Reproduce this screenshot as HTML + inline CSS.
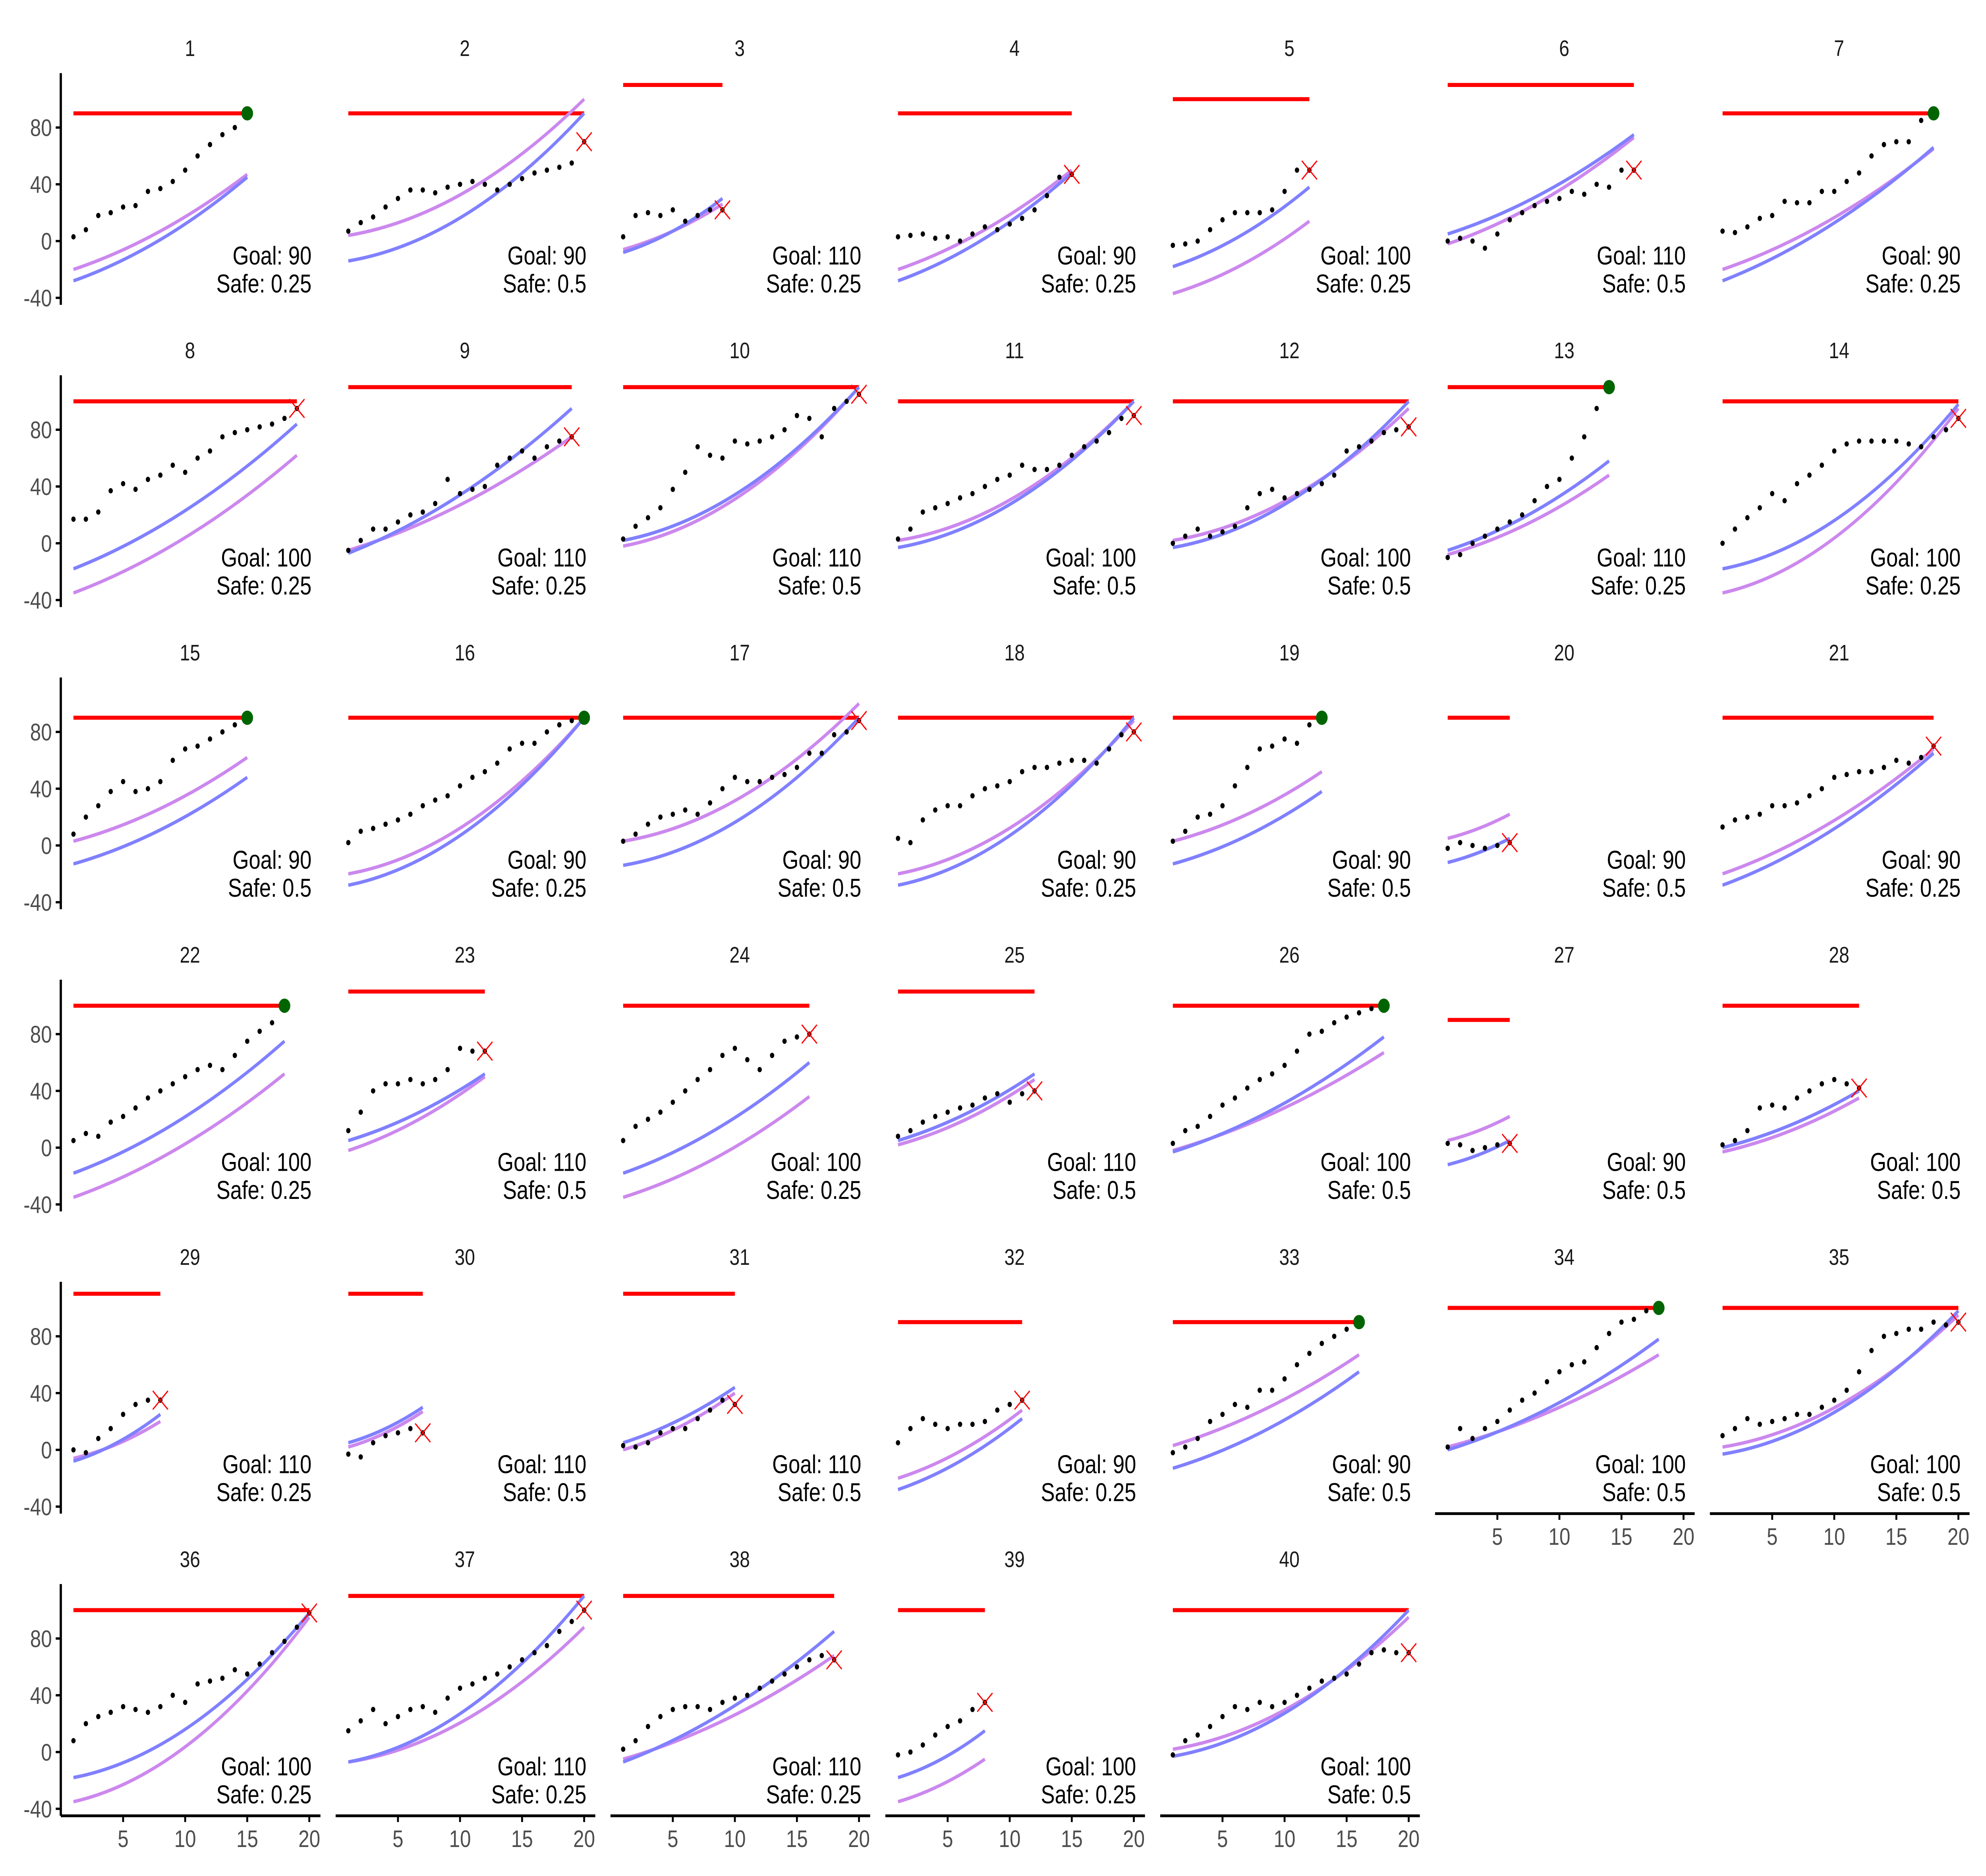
<!DOCTYPE html>
<html><head><meta charset="utf-8"><style>
html,body{margin:0;padding:0;background:#fff;width:100%;height:100%;overflow:hidden;}
svg{display:block;font-family:"Liberation Sans",Arial,sans-serif;width:100vw;height:100vh;}
</style></head><body>
<svg id="root" xmlns="http://www.w3.org/2000/svg" viewBox="0 0 1568 1206.2" preserveAspectRatio="none">
<rect x="0" y="0" width="1568" height="1206.2" fill="#fff"/>
<g id="chart"></g>
</svg>
<script>
const goals=[90,90,110,90,100,110,90,100,110,110,100,100,110,100,90,90,90,90,90,90,90,100,110,100,110,100,90,100,110,110,110,90,90,100,100,100,110,110,100,100];
const safes=["0.25","0.5","0.25","0.25","0.25","0.5","0.25","0.25","0.25","0.5","0.5","0.5","0.25","0.25","0.5","0.25","0.5","0.25","0.5","0.5","0.25","0.25","0.5","0.25","0.5","0.5","0.5","0.5","0.25","0.5","0.5","0.25","0.5","0.5","0.5","0.25","0.25","0.25","0.25","0.5"];
const reached=[1,0,0,0,0,0,1,0,0,0,0,0,1,0,1,1,0,0,1,0,0,1,0,0,0,1,0,0,0,0,0,0,1,1,0,0,0,0,0,0];
const dotSeries=[
[3,8,18,20,24,25,35,37,42,50,60,68,75,80,90],
[7,13,17,24,30,36,36,34,38,40,42,40,36,40,44,48,50,52,55,70],
[3,18,20,18,22,14,18,22,22],
[3,4,5,2,3,0,5,10,8,12,16,22,32,45,47],
[-3,-2,0,8,15,20,20,20,22,35,50,50],
[0,2,0,-5,5,15,20,25,28,30,35,33,40,38,50,50],
[7,6,10,16,18,28,27,27,35,35,42,48,60,68,70,70,85,90],
[17,17,22,37,42,38,45,48,55,50,60,65,75,78,80,82,84,88,95],
[-5,2,10,10,15,20,22,28,45,35,38,40,55,60,65,60,68,72,75],
[3,12,18,25,38,50,68,62,60,72,70,72,75,80,90,88,75,95,100,105],
[3,10,22,25,28,32,35,40,45,48,55,52,52,55,62,68,72,78,88,90],
[0,5,10,5,8,12,25,35,38,32,35,38,42,48,65,68,72,78,80,82],
[-10,-8,0,5,10,15,20,30,40,45,60,75,95,110],
[0,10,18,25,35,30,42,48,55,65,70,72,72,72,72,70,68,75,80,88],
[8,20,28,38,45,38,40,45,60,68,70,75,80,85,90],
[2,10,12,15,18,22,28,32,35,42,48,52,58,68,72,72,80,85,88,90],
[3,8,15,20,22,25,22,30,40,48,45,45,48,50,55,65,65,78,80,88],
[5,2,18,25,28,28,35,40,42,45,52,55,55,58,60,60,58,68,78,80],
[3,10,20,22,28,42,55,68,70,75,72,85,90],
[-2,2,0,-2,0,2],
[13,18,20,22,28,28,30,35,40,48,50,52,52,55,60,58,62,70],
[5,10,8,18,22,28,35,40,45,50,55,58,55,65,75,82,88,100],
[12,25,40,45,45,48,45,48,55,70,68,68],
[5,15,20,25,32,40,48,55,65,70,62,55,65,75,78,80],
[8,12,18,22,25,28,30,35,38,32,38,40],
[3,12,15,22,30,35,42,48,52,58,68,80,82,88,92,95,98,100],
[3,2,-2,0,2,3],
[2,5,12,28,30,28,35,40,45,48,45,42],
[0,-2,8,15,25,32,35,35],
[-3,-5,5,10,12,15,12],
[3,2,5,12,15,15,22,28,35,32],
[5,15,22,18,15,18,18,20,28,32,35],
[-2,2,8,20,25,32,30,42,42,50,60,68,75,80,85,90],
[2,15,8,15,20,28,35,40,48,55,60,62,72,82,90,92,98,100],
[10,15,22,18,20,22,25,25,30,35,42,55,70,80,82,85,85,90,88,90],
[8,20,25,28,32,30,28,32,40,35,48,50,52,58,55,62,70,78,88,98],
[15,22,30,20,25,30,32,28,38,45,48,52,55,60,65,70,75,85,92,100],
[2,8,18,25,30,32,32,30,35,38,40,45,50,55,60,65,68,65],
[-2,0,5,12,18,22,30,35],
[-2,8,12,18,25,32,30,35,32,35,40,45,50,52,55,62,70,72,70,70]];
// blue / purple reference curves: [value at x=1, value at midpoint, value at last x]
const blueCurves=[[-28,1,45],[-14,19,90],[-8,7,30],[-28,2,48],[-18,4,38],[5,33,75],[-28,10,66],[-18,23,84],[-7,34,95],[2,37,110],[-3,30,100],[-3,30,100],[-5,20,58],[-18,19,98],[-13,11,48],[-28,10,90],[-14,19,90],[-28,10,90],[-13,7,38],[-12,-5,5],[-28,9,65],[-18,19,75],[5,24,52],[-18,13,60],[5,24,52],[-3,29,78],[-12,-5,5],[0,16,40],[-8,5,25],[5,15,30],[5,21,44],[-28,-8,22],[-13,14,55],[0,31,78],[-3,29,98],[-18,19,98],[-7,30,110],[-7,30,85],[-18,-5,15],[-3,30,100]];
const purpleCurves=[[-20,7,47],[4,35,100],[-6,7,26],[-20,8,50],[-37,-17,14],[-2,28,73],[-20,14,65],[-35,4,62],[-5,27,75],[-2,34,110],[2,33,100],[2,32,95],[-8,14,48],[-35,7,95],[3,26,62],[-20,15,90],[3,34,100],[-20,15,88],[3,22,52],[5,12,22],[-20,15,68],[-35,0,52],[-2,19,50],[-35,-7,36],[2,20,48],[-2,26,67],[5,12,22],[-3,12,35],[-6,4,20],[2,12,27],[0,16,40],[-20,-1,28],[3,29,67],[2,28,67],[2,32,95],[-35,7,95],[-7,23,88],[-5,24,68],[-35,-23,-5],[2,32,95]];
const yTicks=[-40,0,40,80];
const xTicks=[5,10,15,20];
const bottomAxisPanels=[34,35,36,37,38,39,40];

const NS="http://www.w3.org/2000/svg";
const svg=document.getElementById('chart');
function mk(tag,attrs,parent){const e=document.createElementNS(NS,tag);for(const k in attrs)e.setAttribute(k,attrs[k]);(parent||svg).appendChild(e);return e;}
function xS(c,x){return 58+217*c+(x-1)*9.8;}
function y0(r){return 155+194.3*r;}
function yS(r,v){return y0(r)-v*0.9125;}
function curvePath(c,r,n,cv){
  const x0=xS(c,1),x2=xS(c,n),xm=(x0+x2)/2;
  const a=yS(r,cv[0]),m=yS(r,cv[1]),b=yS(r,cv[2]);
  const cy=2*m-(a+b)/2;
  return `M${x0},${a} Q${xm},${cy} ${x2},${b}`;
}
for(let i=0;i<40;i++){
  const c=i%7,r=Math.floor(i/7);
  const d=dotSeries[i],n=d.length;
  const g=mk('g',{});
  
  
  const t=mk('text',{x:150+217*c,y:y0(r)-119,'text-anchor':'middle','font-size':14.5,fill:'#1a1a1a'},g);
  t.textContent=String(i+1);
  
  
  if(c===0){
    const ax=mk('line',{x1:48,x2:48,y1:y0(r)-108,y2:y0(r)+41,stroke:'#000','stroke-width':1.8},g);
    
    
    yTicks.forEach(v=>{
      const tk=mk('line',{x1:44,x2:48,y1:yS(r,v),y2:yS(r,v),stroke:'#000','stroke-width':1.5},g);
      
      
      const tl=mk('text',{x:41,y:yS(r,v)+5.5,'text-anchor':'end','font-size':15.5,fill:'#4d4d4d'},g);
      tl.textContent=String(v);
      
      
    });
  }
  if(bottomAxisPanels.includes(i+1)){
    const by=y0(r)+41;
    const xa=mk('line',{x1:48+217*c,x2:253+217*c,y1:by,y2:by,stroke:'#000','stroke-width':1.8},g);
    
    
    xTicks.forEach(v=>{
      const tk=mk('line',{x1:xS(c,v),x2:xS(c,v),y1:by,y2:by+4,stroke:'#000','stroke-width':1.5},g);
      
      
      const tl=mk('text',{x:xS(c,v),y:by+20,'text-anchor':'middle','font-size':15.5,fill:'#4d4d4d'},g);
      tl.textContent=String(v);
      
      
    });
  }
  const gl=mk('line',{x1:xS(c,1),x2:xS(c,n),y1:yS(r,goals[i]),y2:yS(r,goals[i]),stroke:'#ff0000','stroke-width':2.6},g);
  
  
  const pp=mk('path',{d:curvePath(c,r,n,purpleCurves[i]),fill:'none',stroke:'#cc88ee','stroke-width':2.2},g);
  
  
  const bp=mk('path',{d:curvePath(c,r,n,blueCurves[i]),fill:'none',stroke:'#8080ff','stroke-width':2.2},g);
  
  
  d.forEach((v,k)=>{
    if(k===n-1&&reached[i])return;
    const p=mk('circle',{cx:xS(c,k+1),cy:yS(r,v),r:1.7,fill:'#000'},g);
    
    
  });
  const ex=xS(c,n),ey=yS(r,d[n-1]);
  if(reached[i]){
    const gd=mk('circle',{cx:ex,cy:yS(r,goals[i]),r:4.6,fill:'#006400'},g);
    
    
  }else{
    const xm=mk('path',{d:`M${ex-6},${ey-6}L${ex+6},${ey+6}M${ex-6},${ey+6}L${ex+6},${ey-6}`,stroke:'#ff0000','stroke-width':0.9,fill:'none'},g);
    
    
  }
  const t1=mk('text',{x:246+217*c,y:y0(r)+15,'text-anchor':'end','font-size':16.5,fill:'#000'},g);
  t1.textContent='Goal: '+goals[i];
  
  
  const t2=mk('text',{x:246+217*c,y:y0(r)+33,'text-anchor':'end','font-size':16.5,fill:'#000'},g);
  t2.textContent='Safe: '+safes[i];
  
  
}
</script>
</body></html>
